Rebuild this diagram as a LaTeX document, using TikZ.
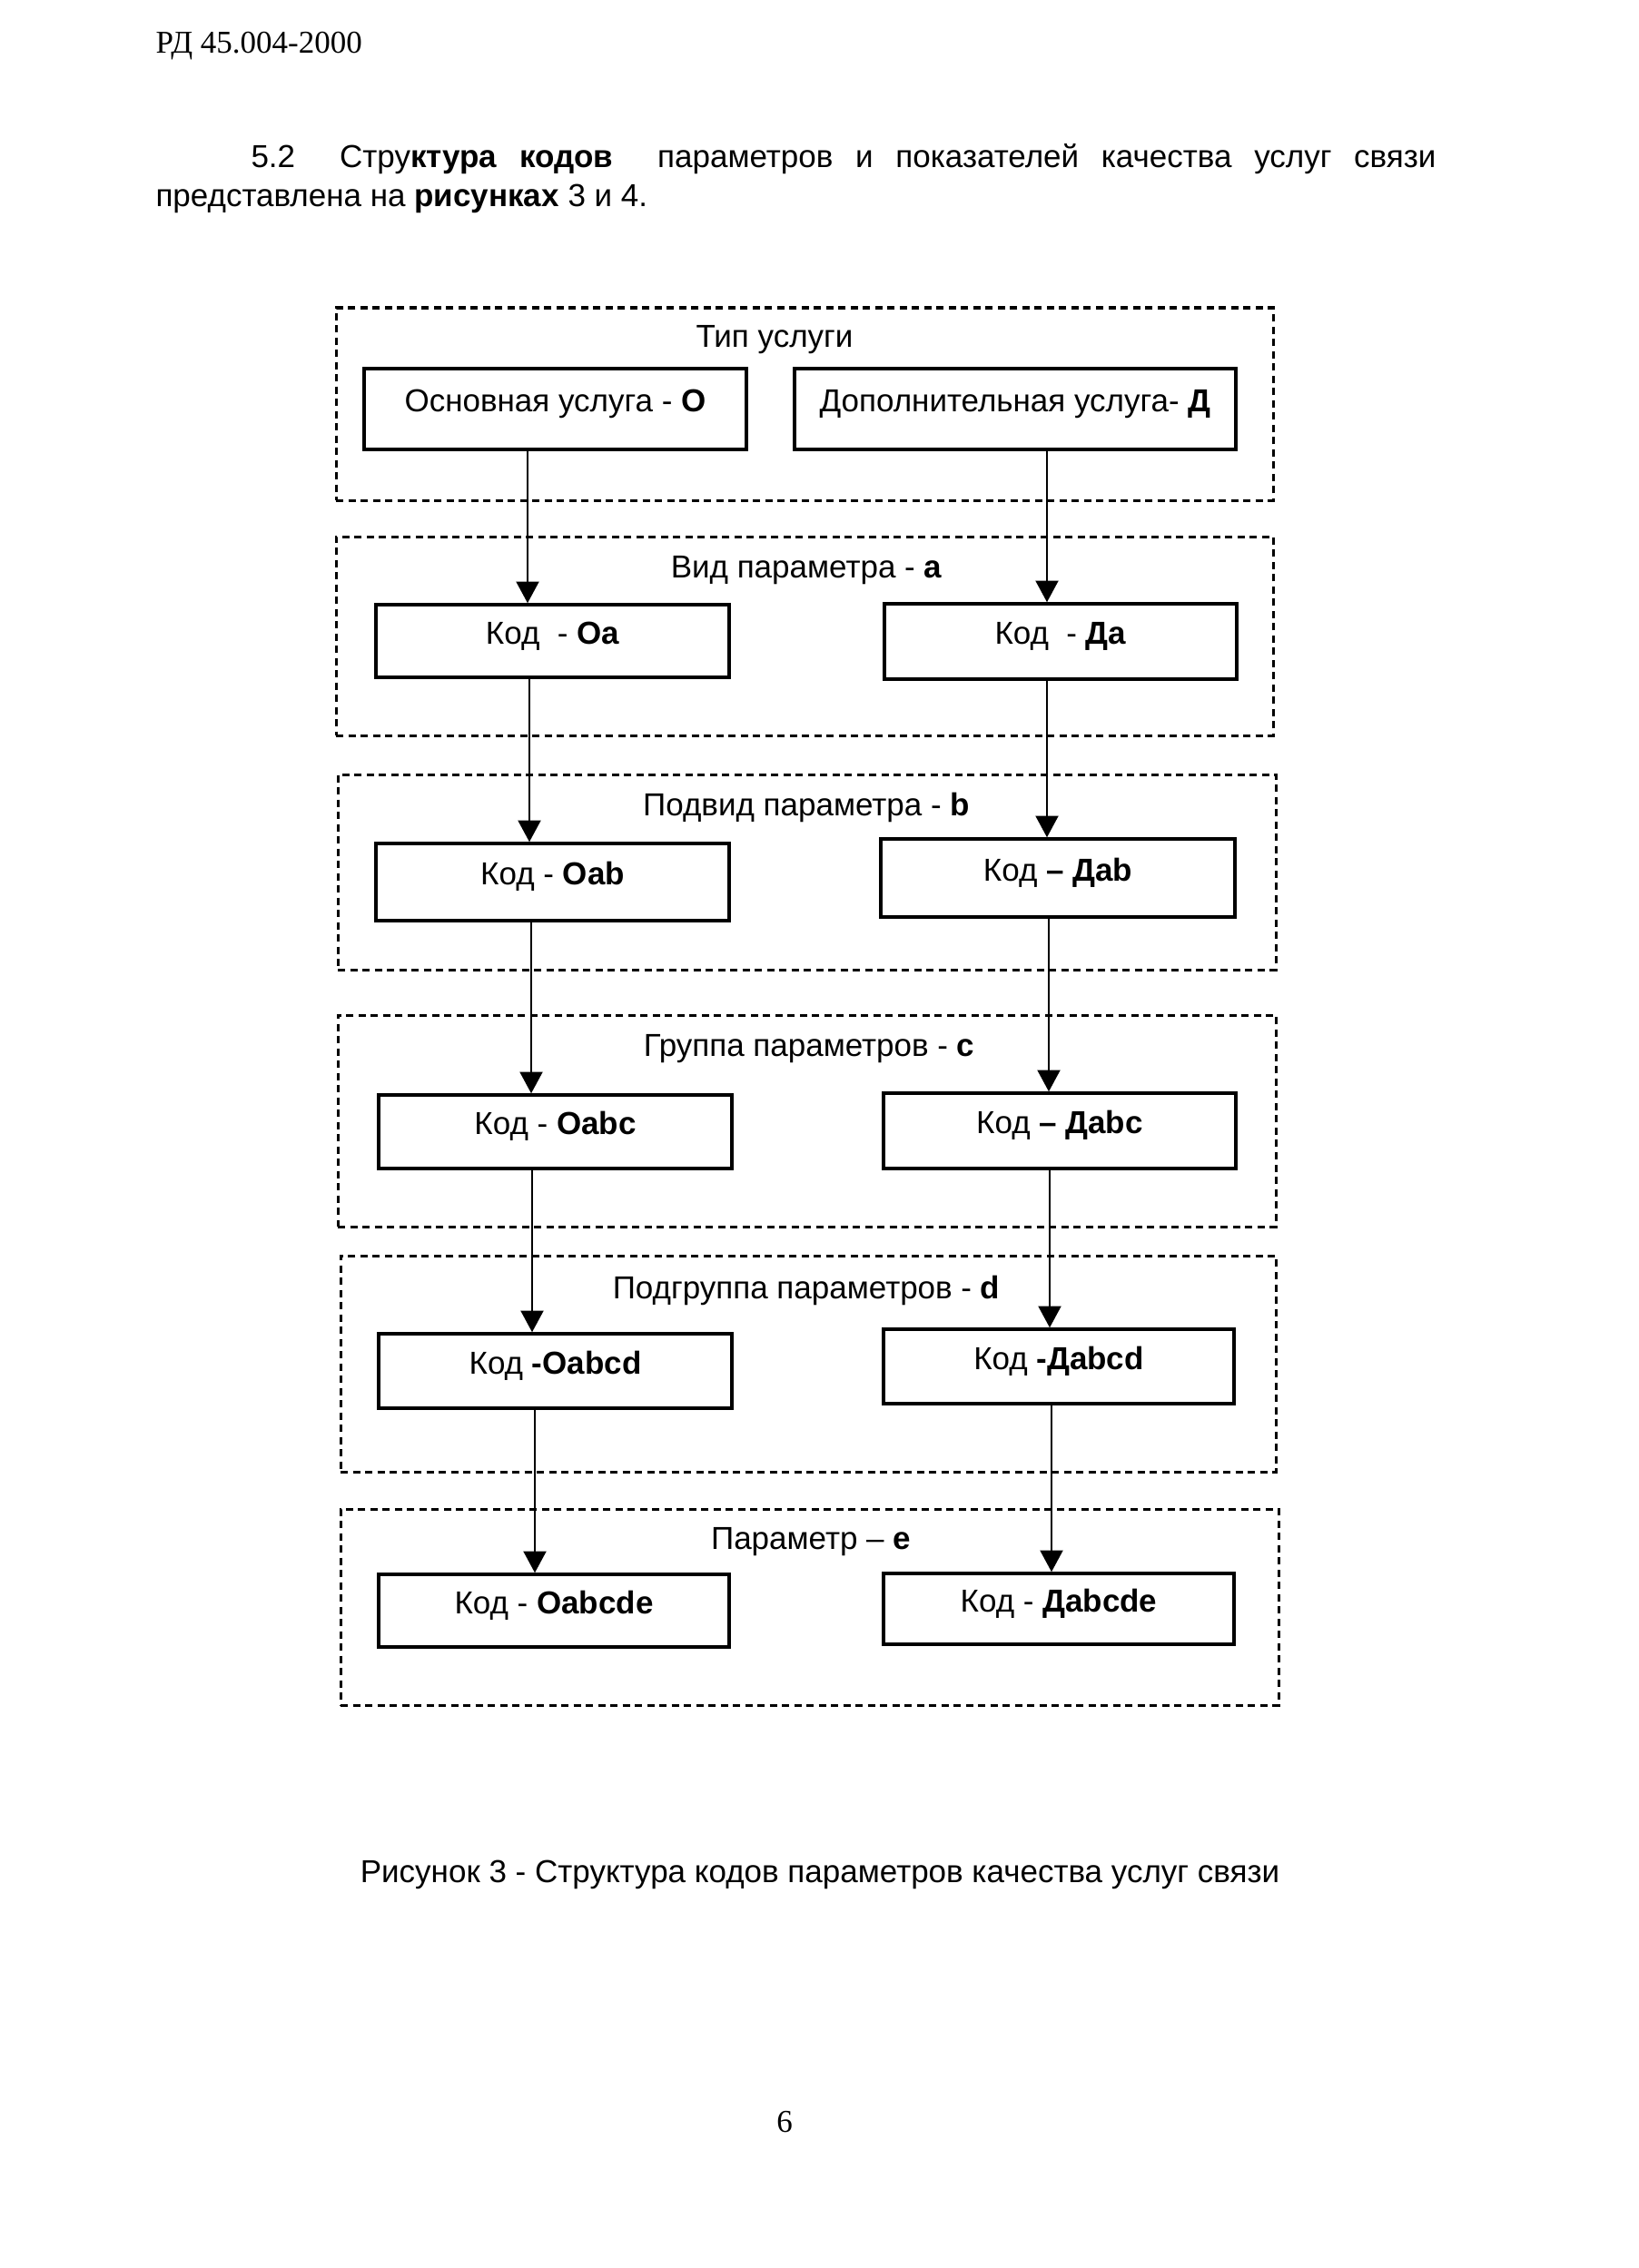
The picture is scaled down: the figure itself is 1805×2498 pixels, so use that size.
\documentclass[tikz,border=0pt]{standalone}
\usepackage{fontspec}
\setmainfont{Liberation Sans}
\newfontfamily\timesf{Liberation Serif}
\usetikzlibrary{arrows.meta}
\newcommand{\mkbox}[6]{\node[cbox, minimum width={(#4-#2)*0.4pt}, minimum height={(#5-#3)*0.4pt}] (#1) at ({(#2+#4)/2},{(#3+#5)/2}) {#6};}
\newcommand{\mkgrp}[5]{\node[dbox, minimum width={(#4-#2)*0.4pt}, minimum height={(#5-#3)*0.4pt}] (#1) at ({(#2+#4)/2},{(#3+#5)/2}) {};}
\begin{document}
\begin{tikzpicture}[x=0.4pt,y=-0.4pt, font=\fontsize{14}{16.8}\selectfont,
  cbox/.style={draw, line width=1.4pt, inner sep=0pt, text height=0.8em, text depth=0.54em, align=center},
  dbox/.style={draw, line width=1.2pt, dash pattern=on 3.2pt off 2.2pt, inner sep=0pt},
  arr/.style={line width=0.9pt, -{Triangle[length=9.5pt,width=10pt]}},
  ttl/.style={anchor=base, inner sep=0pt},
  txt/.style={anchor=base west, inner sep=0pt}]
\fill[white] (0,0) rectangle (1805,2498);
\useasboundingbox (0,0) rectangle (1805,2498);

% header and paragraph
\node[txt, font=\timesf\fontsize{14}{16.8}\selectfont] (hdr) at (171,59) {РД 45.004-2000};
\node[txt] (p1) at (276,185) {\makebox[522pt][s]{5.2\hspace{1.4em}Стру\textbf{ктура кодов}\hspace{1.4em}параметров и показателей качества услуг связи}};
\node[txt] (p2) at (171,228) {представлена на \textbf{рисунках} 3 и 4.};

% group frames
\mkgrp{g1}{370}{339}{1402}{551}
\mkgrp{g2}{370}{591}{1402}{810}
\mkgrp{g3}{372}{853}{1405}{1068}
\mkgrp{g4}{372}{1118}{1405}{1351}
\mkgrp{g5}{375}{1383}{1405}{1621}
\mkgrp{g6}{375}{1662}{1408}{1878}

% group titles
\node[ttl] (t1) at (853,382) {Тип услуги};
\node[ttl] (t2) at (888,636) {Вид параметра - \textbf{a}};
\node[ttl] (t3) at (888,898) {Подвид параметра - \textbf{b}};
\node[ttl] (t4) at (891,1163) {Группа параметров - \textbf{c}};
\node[ttl] (t5) at (888,1430) {Подгруппа параметров - \textbf{d}};
\node[ttl] (t6) at (893,1706) {Параметр – \textbf{e}};

% code boxes
\mkbox{o0}{401}{406}{822}{495}{Основная услуга - \textbf{О}}
\mkbox{d0}{875}{406}{1361}{495}{Дополнительная услуга- \textbf{Д}}
\mkbox{o1}{414}{666}{803}{746}{Код\ \ - \textbf{Оa}}
\mkbox{d1}{974}{665}{1362}{748}{Код\ \ - \textbf{Дa}}
\mkbox{o2}{414}{929}{803}{1014}{Код - \textbf{Оab}}
\mkbox{d2}{970}{924}{1360}{1010}{Код \textbf{– Дab}}
\mkbox{o3}{417}{1206}{806}{1287}{Код - \textbf{Оabc}}
\mkbox{d3}{973}{1204}{1361}{1287}{Код \textbf{– Дabc}}
\mkbox{o4}{417}{1469}{806}{1551}{Код \textbf{-Оabcd}}
\mkbox{d4}{973}{1464}{1359}{1546}{Код \textbf{-Дabcd}}
\mkbox{o5}{417}{1734}{803}{1814}{Код - \textbf{Оabcde}}
\mkbox{d5}{973}{1733}{1359}{1811}{Код - \textbf{Дabcde}}

% arrow columns
\coordinate (xl1) at (581,0);
\coordinate (xl2) at (583,0);
\coordinate (xl3) at (585,0);
\coordinate (xl4) at (586,0);
\coordinate (xl5) at (589,0);
\coordinate (xr1) at (1153,0);
\coordinate (xr2) at (1153,0);
\coordinate (xr3) at (1155,0);
\coordinate (xr4) at (1156,0);
\coordinate (xr5) at (1158,0);

\draw[arr] (o0.south -| xl1) -- (o1.north -| xl1);
\draw[arr] (o1.south -| xl2) -- (o2.north -| xl2);
\draw[arr] (o2.south -| xl3) -- (o3.north -| xl3);
\draw[arr] (o3.south -| xl4) -- (o4.north -| xl4);
\draw[arr] (o4.south -| xl5) -- (o5.north -| xl5);
\draw[arr] (d0.south -| xr1) -- (d1.north -| xr1);
\draw[arr] (d1.south -| xr2) -- (d2.north -| xr2);
\draw[arr] (d2.south -| xr3) -- (d3.north -| xr3);
\draw[arr] (d3.south -| xr4) -- (d4.north -| xr4);
\draw[arr] (d4.south -| xr5) -- (d5.north -| xr5);

% caption and page number
\node[ttl] (cap) at (903,2073) {Рисунок 3 - Структура кодов параметров качества услуг связи};
\node[ttl, font=\timesf\fontsize{14}{16.8}\selectfont] (pg) at (864,2348) {6};
\end{tikzpicture}
\end{document}
